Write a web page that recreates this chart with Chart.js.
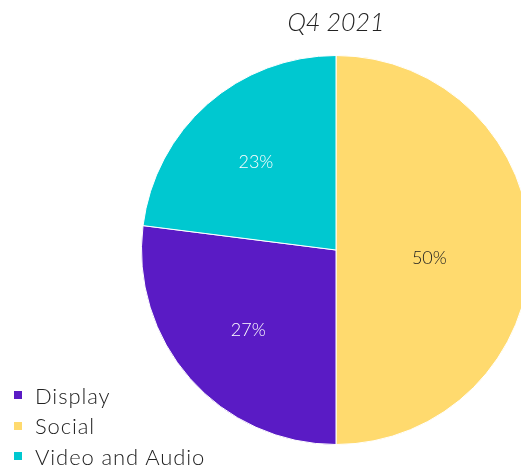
<!DOCTYPE html>
<html>
<head>
<meta charset="utf-8">
<title>Q4 2021</title>
<script src="https://cdn.jsdelivr.net/npm/chart.js@4"></script>
<style>
  html, body { margin: 0; padding: 0; background: #fff; overflow: hidden; }
  #wrap { position: relative; width: 521px; height: 470px; overflow: hidden; }
  #chart { position: absolute; left: 0; top: 0; }
  #legend {
    position: absolute; left: 14px; top: 380px;
    font-family: Lato, "Open Sans", sans-serif; font-weight: 300;
    font-size: 22px; letter-spacing: 0.9px; color: #222;
  }
  #legend .item { display: flex; align-items: center; height: 30.5px; }
  #legend .swatch { width: 8px; height: 8px; margin-right: 13px; }
</style>
</head>
<body>
<div id="wrap">
  <canvas id="chart" width="672" height="470"></canvas>
  <div id="legend"></div>
</div>
<script>
// Ad spend share by channel
const chartTitle = 'Q4 2021';
const categories = ['Social', 'Display', 'Video and Audio'];
const shares = [50, 27, 23];
const sliceColors = ['#FFDA6E', '#5A1BC5', '#00C8D0'];

// dark text on light slices, white on dark ones
function labelColor(hex) {
  const r = parseInt(hex.slice(1, 3), 16);
  const g = parseInt(hex.slice(3, 5), 16);
  const b = parseInt(hex.slice(5, 7), 16);
  return (0.299 * r + 0.587 * g + 0.114 * b) > 190 ? '#222222' : '#ffffff';
}

// Percent labels placed near each slice's centroid
const sliceLabels = {
  id: 'sliceLabels',
  afterDatasetsDraw(chart) {
    const ctx = chart.ctx;
    const meta = chart.getDatasetMeta(0);
    ctx.save();
    ctx.font = '300 18px Lato, "Open Sans", sans-serif';
    ctx.textAlign = 'center';
    ctx.textBaseline = 'middle';
    meta.data.forEach((arc, i) => {
      const { x, y, startAngle, endAngle, outerRadius } = arc.getProps(['x', 'y', 'startAngle', 'endAngle', 'outerRadius'], true);
      const half = (endAngle - startAngle) / 2;
      const mid = startAngle + half;
      const centroid = 2 * outerRadius * Math.sin(half) / (3 * half);
      const dist = Math.max(centroid * 1.02, outerRadius * 0.48);
      // big slices get their label nudged a little below the middle
      const lift = half > 1.5 ? 8 : 3;
      ctx.fillStyle = labelColor(sliceColors[i]);
      ctx.fillText(shares[i] + '%', x + Math.cos(mid) * dist, y + Math.sin(mid) * dist + lift);
    });
    ctx.restore();
  }
};

new Chart(document.getElementById('chart'), {
  type: 'pie',
  data: {
    labels: categories,
    datasets: [{
      data: shares,
      backgroundColor: sliceColors,
      borderColor: '#ffffff',
      borderWidth: 1
    }]
  },
  options: {
    responsive: false,
    animation: false,
    layout: { padding: { top: 0, bottom: 25, left: 0, right: 0 } },
    plugins: {
      legend: { display: false },
      tooltip: { enabled: false },
      title: {
        display: true,
        text: chartTitle,
        color: '#222222',
        font: { family: 'Lato, "Open Sans", sans-serif', size: 25, style: 'italic', weight: '300' },
        padding: { top: 8, bottom: 17 }
      }
    }
  },
  plugins: [sliceLabels]
});

// Legend, listed alphabetically
const legendEl = document.getElementById('legend');
categories
  .map((name, i) => ({ name, color: sliceColors[i] }))
  .sort((a, b) => a.name.localeCompare(b.name))
  .forEach(entry => {
    legendEl.insertAdjacentHTML('beforeend',
      `<div class="item"><span class="swatch" style="background:${entry.color}"></span><span>${entry.name}</span></div>`);
  });
</script>
</body>
</html>
